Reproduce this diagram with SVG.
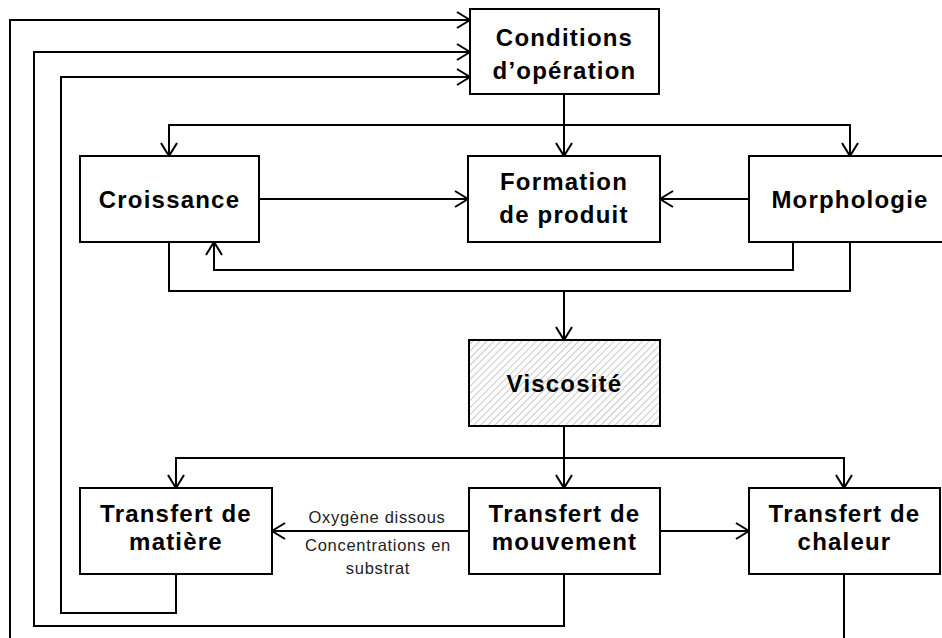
<svg xmlns="http://www.w3.org/2000/svg" width="942" height="638" viewBox="0 0 942 638">
<style>
.box{fill:#fff;stroke:#000;stroke-width:2}
.t{font-family:"Liberation Sans",Arial,sans-serif;font-weight:700;font-size:24px;letter-spacing:1.2px;text-anchor:middle;fill:#000}
.s{font-family:"Liberation Sans",Arial,sans-serif;font-size:16.5px;letter-spacing:0.7px;text-anchor:middle;fill:#222}
.c{fill:none;stroke:#000;stroke-width:2}
.a{marker-end:url(#ah)}
.aa{marker-start:url(#ah);marker-end:url(#ah)}
</style>
<defs>
<marker id="ah" markerUnits="userSpaceOnUse" markerWidth="20" markerHeight="20" refX="0" refY="0" viewBox="-15 -10 20 20" orient="auto-start-reverse" overflow="visible">
<path d="M-13,-8 L0,0 L-13,8" fill="none" stroke="#000" stroke-width="2"/>
</marker>
<pattern id="hatch" patternUnits="userSpaceOnUse" width="5" height="5" patternTransform="rotate(45)">
<rect width="5" height="5" fill="#fff"/>
<line x1="0" y1="0" x2="0" y2="5" stroke="#c8c8c8" stroke-width="2"/>
</pattern>
</defs>
<rect width="942" height="638" fill="#fff"/>
<g id="connectors">
<path class="c a" d="M844,574 V660 H10 V20 H470"/>
<path class="c a" d="M564,574 V626 H34 V52 H470"/>
<path class="c a" d="M176,574 V613 H61 V77 H470"/>
<path class="c a" d="M564,94 V156"/>
<path class="c aa" d="M169,156 V125 H850 V156"/>
<path class="c a" d="M259,199 H468"/>
<path class="c a" d="M749,199 H660"/>
<path class="c a" d="M793,242 V270 H214 V242"/>
<path class="c" d="M169,242 V291 H850 V242"/>
<path class="c a" d="M564,291 V340"/>
<path class="c a" d="M564,426 V488"/>
<path class="c aa" d="M176,488 V458 H844 V488"/>
<path class="c a" d="M469,531 H272"/>
<path class="c a" d="M660,531 H749"/>
<text class="s" x="377" y="523">Oxygène dissous</text>
<text class="s" x="378" y="551">Concentrations en</text>
<text class="s" x="378" y="574">substrat</text>
</g>
<g id="conditions">
<rect class="box" x="470" y="9" width="189" height="85"/>
<text class="t" x="564.5" y="46">Conditions</text>
<text class="t" x="564.5" y="79">d’opération</text>
</g>
<g id="croissance">
<rect class="box" x="80" y="156" width="179" height="86"/>
<text class="t" x="169.5" y="208">Croissance</text>
</g>
<g id="formation">
<rect class="box" x="468" y="156" width="192" height="86"/>
<text class="t" x="564" y="190">Formation</text>
<text class="t" x="564" y="223">de produit</text>
</g>
<g id="morphologie">
<rect class="box" x="749" y="156" width="202" height="86"/>
<text class="t" x="850" y="208">Morphologie</text>
</g>
<g id="viscosite">
<rect x="469" y="340" width="191" height="86" fill="url(#hatch)" stroke="#000" stroke-width="2"/>
<text class="t" x="564.5" y="392">Viscosité</text>
</g>
<g id="matiere">
<rect class="box" x="80" y="488" width="192" height="86"/>
<text class="t" x="176" y="522">Transfert de</text>
<text class="t" x="176" y="550">matière</text>
</g>
<g id="mouvement">
<rect class="box" x="469" y="488" width="191" height="86"/>
<text class="t" x="564.5" y="522">Transfert de</text>
<text class="t" x="564.5" y="550">mouvement</text>
</g>
<g id="chaleur">
<rect class="box" x="749" y="488" width="191" height="86"/>
<text class="t" x="844.5" y="522">Transfert de</text>
<text class="t" x="844.5" y="550">chaleur</text>
</g>
</svg>
